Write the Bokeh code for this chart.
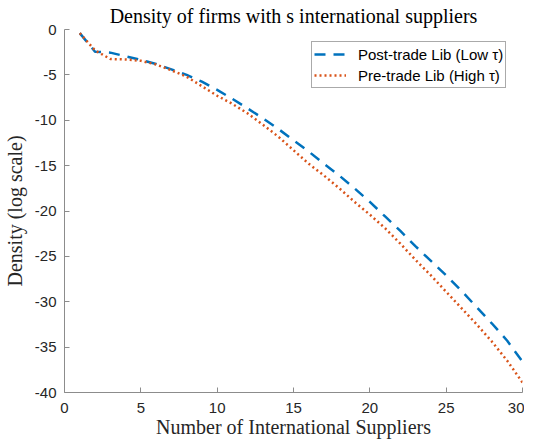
from bokeh.plotting import figure
from bokeh.models import Range1d, FixedTicker, Legend, LegendItem
from bokeh.embed import file_html
from bokeh.resources import INLINE

suppliers = list(range(1, 31))
post_trade = [-0.4, -2.45, -2.55, -2.95, -3.35, -3.8, -4.4, -5.0, -5.75, -6.65,
              -7.65, -8.7, -9.8, -10.95, -12.2, -13.45, -14.8, -16.1, -17.5, -19.0,
              -20.6, -22.2, -23.9, -25.5, -27.1, -28.8, -30.6, -32.4, -34.3, -36.6]
pre_trade = [-0.4, -2.3, -3.25, -3.3, -3.45, -3.85, -4.5, -5.2, -6.25, -7.3,
             -8.2, -9.25, -10.5, -11.8, -13.3, -14.8, -16.1, -17.5, -19.0, -20.4,
             -21.9, -23.6, -25.4, -27.1, -28.9, -30.7, -32.5, -34.4, -36.5, -38.9]
x_ticks = [0, 5, 10, 15, 20, 25, 30]
y_ticks = [-40, -35, -30, -25, -20, -15, -10, -5, 0]

title_text = "Density of firms with s international suppliers"
x_label = "Number of International Suppliers"
y_label = "Density (log scale)"
label_post = "Post-trade Lib (Low \u03c4)"
label_pre = "Pre-trade Lib (High \u03c4)"

p = figure(frame_width=458, frame_height=363, output_backend="svg",
           toolbar_location=None,
           x_range=Range1d(0, 30), y_range=Range1d(-40, 0),
           min_border_left=59, min_border_right=2, min_border_top=27,
           min_border_bottom=41)

p.outline_line_color = None
p.xgrid.visible = False
p.ygrid.visible = False
p.background_fill_color = "white"
p.border_fill_color = "white"

p.title.text = title_text
p.title.align = "center"
p.title.text_font = "Liberation Serif"
p.title.text_font_size = "20px"
p.title.text_font_style = "normal"
p.title.text_color = "#000000"
p.title.offset = 0
p.title.standoff = 5

for ax in (p.xaxis[0], p.yaxis[0]):
    ax.major_tick_in = 5
    ax.major_tick_out = 0
    ax.minor_tick_line_color = None
    ax.axis_line_color = "#8c8c8c"
    ax.major_tick_line_color = "#8c8c8c"
    ax.major_label_text_font = "Liberation Sans"
    ax.major_label_text_font_size = "15px"
    ax.major_label_text_color = "#262626"
    ax.axis_label_text_font = "Liberation Serif"
    ax.axis_label_text_font_size = "20px"
    ax.axis_label_text_font_style = "normal"
    ax.axis_label_text_color = "#262626"

p.xaxis.ticker = FixedTicker(ticks=x_ticks)
p.yaxis.ticker = FixedTicker(ticks=y_ticks)
p.xaxis.major_label_overrides = {t: str(t) for t in x_ticks}
p.yaxis.major_label_overrides = {t: str(t) for t in y_ticks}
p.xaxis.axis_label = x_label
p.yaxis.axis_label = y_label
p.xaxis.major_label_standoff = 10
p.xaxis.axis_label_standoff = 0
p.yaxis.major_label_standoff = 8
p.yaxis.axis_label_standoff = 6

r_post = p.line(suppliers, post_trade, line_color="#0072BD", line_width=2.5,
                line_dash="11 8")
r_pre = p.line(suppliers, pre_trade, line_color="#D95319", line_width=2.5,
               line_dash="2 3")

legend = Legend(items=[LegendItem(label=label_post, renderers=[r_post]),
                       LegendItem(label=label_pre, renderers=[r_pre])],
                location=(247, 304))
legend.label_text_font = "Liberation Sans"
legend.label_text_font_size = "15px"
legend.label_text_color = "#000000"
legend.glyph_width = 32
legend.glyph_height = 20
legend.label_height = 20
legend.label_standoff = 12
legend.spacing = 1
legend.padding = 2
legend.margin = 0
legend.border_line_color = "#555555"
legend.border_line_width = 1
legend.background_fill_color = "white"
legend.background_fill_alpha = 1.0
p.add_layout(legend)

open("out.html", "w").write(file_html(p, INLINE))
